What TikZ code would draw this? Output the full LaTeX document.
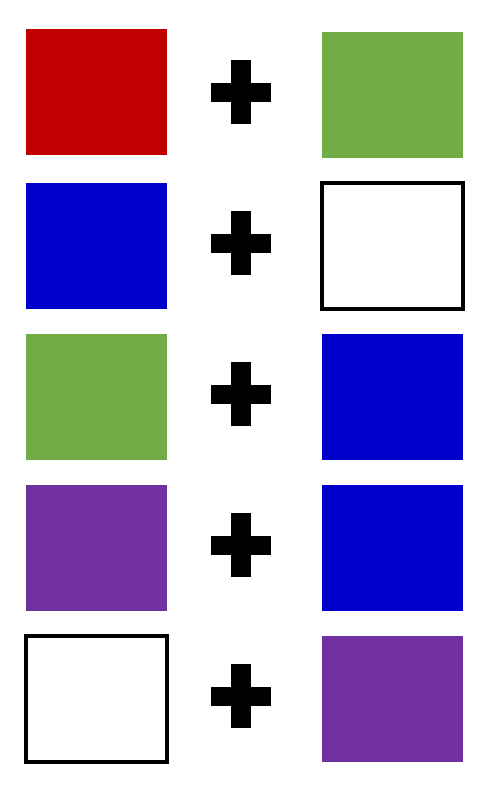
\documentclass[tikz,border=0pt]{standalone}
\definecolor{boxred}{RGB}{192,0,0}
\definecolor{boxgreen}{RGB}{112,173,71}
\definecolor{boxblue}{RGB}{0,0,204}
\definecolor{boxpurple}{RGB}{112,48,160}
\tikzset{
  colbox/.style={fill=#1, draw=none, inner sep=0pt, minimum width=141pt, minimum height=126pt},
  emptybox/.style={fill=white, draw=black, line width=4pt, inner sep=0pt, minimum width=141pt, minimum height=126pt}
}
\newcommand{\plussign}[1]{%
  \fill (211,#1-9.5) rectangle (271,#1+9.5);
  \fill (231,#1-32) rectangle (251,#1+32);}
\begin{document}
\begin{tikzpicture}[x=1pt, y=-1pt]
    \useasboundingbox (0,0) rectangle (503,800);
    % Row 1: red + green
    \node[colbox=boxred] (l1) at (96.5,92) {};
    \plussign{92}
    \node[colbox=boxgreen] (r1) at (392.5,95) {};
    % Row 2: blue + empty
    \node[colbox=boxblue] (l2) at (96.5,246) {};
    \plussign{243}
    \node[emptybox] (r2) at (392.5,245.5) {};
    % Row 3: green + blue
    \node[colbox=boxgreen] (l3) at (96.5,397) {};
    \plussign{394}
    \node[colbox=boxblue] (r3) at (392.5,397) {};
    % Row 4: purple + blue
    \node[colbox=boxpurple] (l4) at (96.5,548) {};
    \plussign{545}
    \node[colbox=boxblue] (r4) at (392.5,548) {};
    % Row 5: empty + purple
    \node[emptybox] (l5) at (96.5,699) {};
    \plussign{696}
    \node[colbox=boxpurple] (r5) at (392.5,699) {};
  \end{tikzpicture}
\end{document}
